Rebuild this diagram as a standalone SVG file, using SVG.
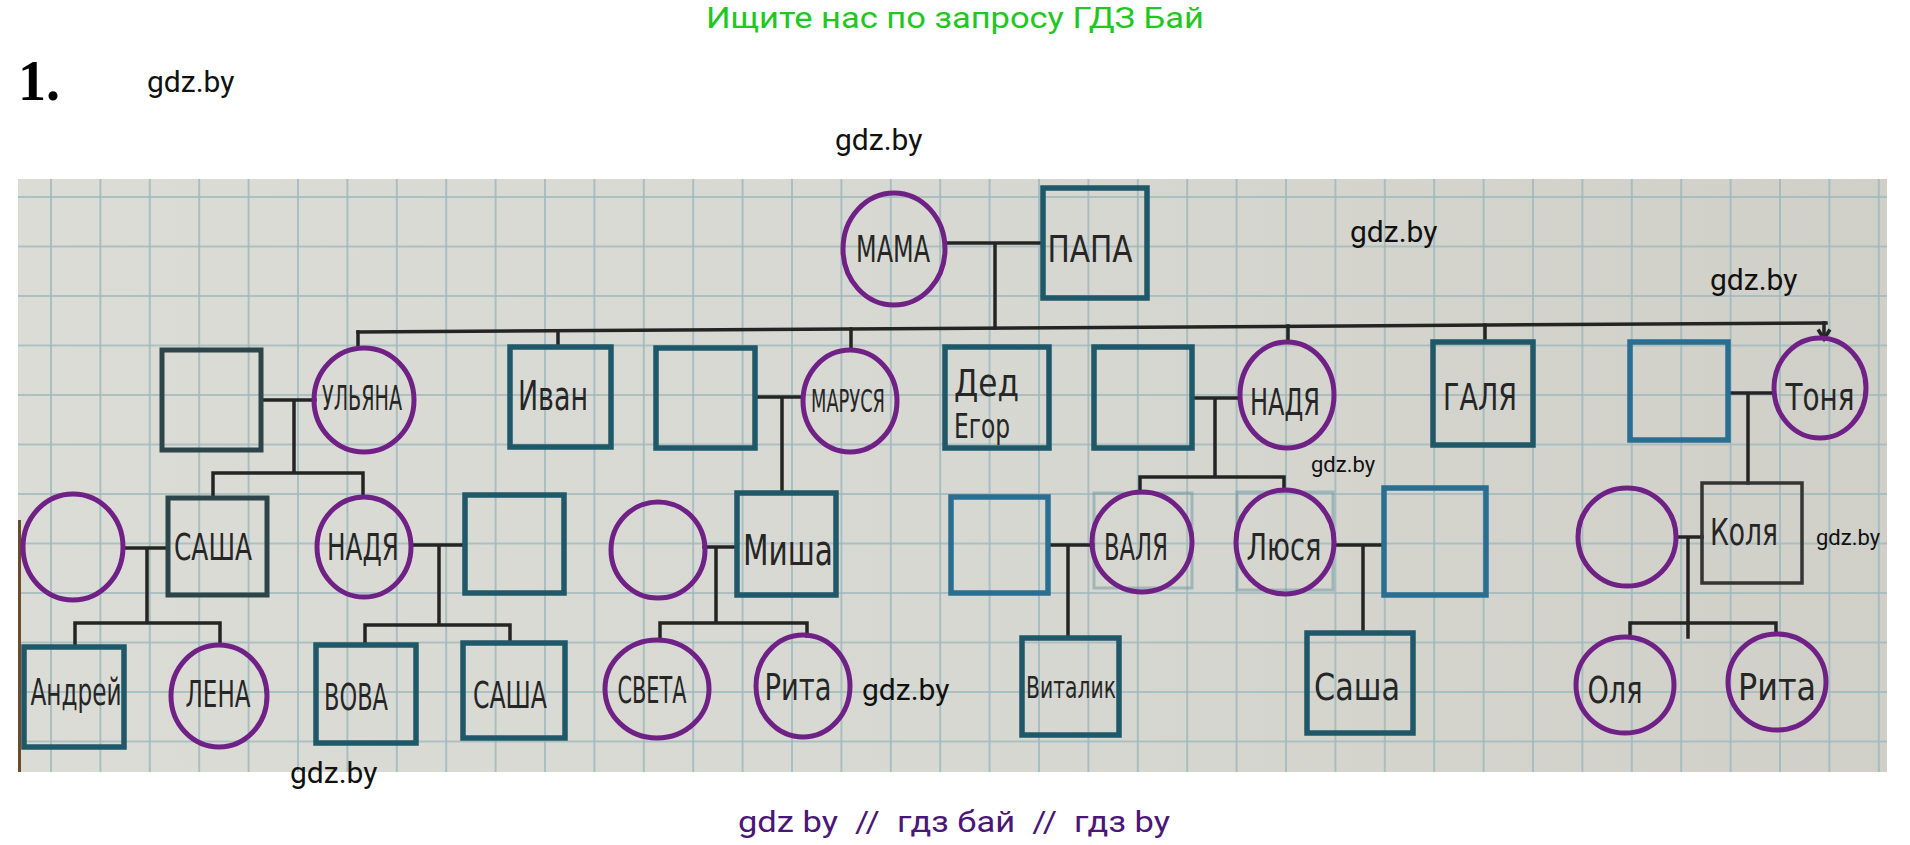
<svg xmlns="http://www.w3.org/2000/svg" width="1910" height="845" viewBox="0 0 1910 845">
<style>
.f{fill:none;stroke:#6f2186;stroke-width:5}
.m{fill:none;stroke:#1f5868;stroke-width:5.5}
.m2{fill:none;stroke:#2d4449;stroke-width:5}
.m3{fill:none;stroke:#2a6e92;stroke-width:5.5}
.m4{fill:none;stroke:#353535;stroke-width:3.5}
.ghost{fill:none;stroke:#5f8f9a;stroke-width:3;opacity:0.45}
.c{fill:none;stroke:#242424;stroke-width:3.5;stroke-linecap:square}
.t{font-family:"Liberation Sans Narrow","DejaVu Sans Condensed","Liberation Sans",sans-serif;font-size:38px;fill:#262626;text-anchor:middle}
.tl{text-anchor:start}
.w{font-family:Roboto,"Liberation Sans",sans-serif;font-size:30px;fill:#111}
.ws{font-family:Roboto,"Liberation Sans",sans-serif;font-size:22px;fill:#111}
</style>
<defs>
<linearGradient id="paper" x1="0" y1="0" x2="1" y2="0">
<stop offset="0" stop-color="#dcdcd6"/>
<stop offset="0.5" stop-color="#d8d8d2"/>
<stop offset="1" stop-color="#d0d0c9"/>
</linearGradient>
<pattern id="grid" patternUnits="userSpaceOnUse" x="50" y="196" width="49.4" height="49.5">
<path d="M1 0V49.5M0 1H49.4" stroke="#9db8bc" stroke-width="1.6" fill="none"/>
</pattern>
</defs>
<rect width="1910" height="845" fill="#ffffff"/>
<text x="955" y="28" text-anchor="middle" style="font-family:Roboto,'Liberation Sans',sans-serif;font-size:30px;fill:#1ec81e" textLength="498" lengthAdjust="spacingAndGlyphs">Ищите нас по запросу ГДЗ Бай</text>
<text x="18" y="100" style="font-family:'Liberation Serif',serif;font-size:56px;font-weight:bold;fill:#000">1.</text>
<g id="photo">
<rect x="18" y="179" width="1869" height="593" fill="url(#paper)"/>
<rect x="18" y="179" width="1869" height="593" fill="url(#grid)"/>
<rect x="18" y="520" width="3" height="252" fill="#6b4a2e"/>
</g>
<g id="connectors">
<path class="c" d="M945 243H1043M995 243V328"/>
<path class="c" d="M358 332L1826 323"/>
<path class="c" d="M358 332V348M558 331V347M851 329V350M1288 326V342M1485 325V342M1824 323V338"/>
<path class="c" d="M1819 331L1824 339L1829 331"/>
<path class="c" d="M261 400H315M294 400V473M213 473H363M213 473V498M363 473V497"/>
<path class="c" d="M755 397H803M782 397V493"/>
<path class="c" d="M1192 398H1240M1215 398V477M1140 477H1284M1140 477V492M1284 477V490"/>
<path class="c" d="M1728 393H1774M1748 393V483"/>
<path class="c" d="M123 548H168M147 548V623M75 623H220M75 623V647M220 623V645"/>
<path class="c" d="M411 545H465M439 545V625M365 625H510M365 625V645M510 625V643"/>
<path class="c" d="M704 547H737M716 547V623M660 623H807M660 623V640M807 623V636"/>
<path class="c" d="M1048 545H1093M1068 545V638"/>
<path class="c" d="M1334 545H1384M1363 545V633"/>
<path class="c" d="M1676 537H1702M1688 537V637M1630 623H1776M1630 623V637M1776 623V633"/>
</g>
<g id="n-mama"><ellipse class="f" cx="894" cy="249" rx="51" ry="56"/><text class="t" x="893" y="262" textLength="74" lengthAdjust="spacingAndGlyphs">МАМА</text></g>
<g id="n-papa"><rect class="m" x="1043" y="188" width="104" height="110"/><text class="t" x="1090" y="262" textLength="85" lengthAdjust="spacingAndGlyphs">ПАПА</text></g>
<g id="n-ulyana-husband"><rect class="m2" x="162" y="350" width="99" height="100"/></g>
<g id="n-ulyana"><ellipse class="f" cx="364" cy="400" rx="50" ry="52"/><text class="t" x="362" y="410" style="font-size:34px" textLength="80" lengthAdjust="spacingAndGlyphs">УЛЬЯНА</text></g>
<g id="n-ivan"><rect class="m" x="510" y="347" width="101" height="100"/><text class="t" x="553" y="410" style="font-size:40px" textLength="70" lengthAdjust="spacingAndGlyphs">Иван</text></g>
<g id="n-marusya-husband"><rect class="m" x="656" y="348" width="99" height="100"/></g>
<g id="n-marusya"><ellipse class="f" cx="850" cy="401" rx="47" ry="51"/><text class="t" x="848" y="412" style="font-size:32px" textLength="74" lengthAdjust="spacingAndGlyphs">МАРУСЯ</text></g>
<g id="n-ded-egor"><rect class="m" x="945" y="347" width="104" height="101"/><text class="t tl" x="954" y="396" textLength="65" lengthAdjust="spacingAndGlyphs">Дед</text><text class="t tl" x="954" y="438" style="font-size:34px" textLength="56" lengthAdjust="spacingAndGlyphs">Егор</text></g>
<g id="n-nadya1-husband"><rect class="m" x="1094" y="347" width="98" height="101"/></g>
<g id="n-nadya1"><ellipse class="f" cx="1287" cy="395" rx="47" ry="53"/><text class="t" x="1285" y="415" textLength="70" lengthAdjust="spacingAndGlyphs">НАДЯ</text></g>
<g id="n-galya"><rect class="m" x="1433" y="342" width="100" height="103"/><text class="t" x="1480" y="410" textLength="74" lengthAdjust="spacingAndGlyphs">ГАЛЯ</text></g>
<g id="n-tonya-husband"><rect class="m3" x="1630" y="342" width="98" height="98"/></g>
<g id="n-tonya"><ellipse class="f" cx="1820" cy="388" rx="46" ry="50"/><text class="t" x="1820" y="410" textLength="69" lengthAdjust="spacingAndGlyphs">Тоня</text></g>
<g id="n-sasha1-wife"><ellipse class="f" cx="73" cy="547" rx="50" ry="53"/></g>
<g id="n-sasha1"><rect class="m2" x="168" y="498" width="99" height="97"/><text class="t" x="213" y="560" textLength="78" lengthAdjust="spacingAndGlyphs">САША</text></g>
<g id="n-nadya2"><ellipse class="f" cx="364" cy="547" rx="47" ry="50"/><text class="t" x="363" y="560" textLength="72" lengthAdjust="spacingAndGlyphs">НАДЯ</text></g>
<g id="n-nadya2-husband"><rect class="m" x="465" y="495" width="99" height="98"/></g>
<g id="n-misha-wife"><ellipse class="f" cx="658" cy="550" rx="47" ry="48"/></g>
<g id="n-misha"><rect class="m" x="737" y="493" width="99" height="102"/><text class="t" x="788" y="565" style="font-size:42px" textLength="90" lengthAdjust="spacingAndGlyphs">Миша</text></g>
<g id="n-valya-husband"><rect class="m3" x="951" y="497" width="97" height="96"/></g>
<g id="n-valya"><rect class="ghost" x="1094" y="493" width="98" height="95"/><ellipse class="f" cx="1142" cy="542" rx="50" ry="50"/><text class="t" x="1136" y="560" textLength="64" lengthAdjust="spacingAndGlyphs">ВАЛЯ</text></g>
<g id="n-lyusya"><rect class="ghost" x="1237" y="492" width="96" height="98"/><ellipse class="f" cx="1285" cy="542" rx="49" ry="52"/><text class="t" x="1284" y="560" textLength="75" lengthAdjust="spacingAndGlyphs">Люся</text></g>
<g id="n-lyusya-husband"><rect class="m3" x="1384" y="488" width="102" height="107"/></g>
<g id="n-kolya-wife"><ellipse class="f" cx="1627" cy="537" rx="49" ry="49"/></g>
<g id="n-kolya"><rect class="m4" x="1702" y="483" width="100" height="100"/><text class="t" x="1744" y="545" textLength="68" lengthAdjust="spacingAndGlyphs">Коля</text></g>
<g id="n-andrey"><rect class="m" x="24" y="647" width="100" height="100"/><text class="t" x="76" y="705" textLength="91" lengthAdjust="spacingAndGlyphs">Андрей</text></g>
<g id="n-lena"><ellipse class="f" cx="219" cy="696" rx="48" ry="51"/><text class="t" x="218" y="707" textLength="65" lengthAdjust="spacingAndGlyphs">ЛЕНА</text></g>
<g id="n-vova"><rect class="m" x="316" y="645" width="100" height="98"/><text class="t" x="356" y="710" textLength="64" lengthAdjust="spacingAndGlyphs">ВОВА</text></g>
<g id="n-sasha2"><rect class="m" x="463" y="643" width="102" height="95"/><text class="t" x="510" y="708" textLength="74" lengthAdjust="spacingAndGlyphs">САША</text></g>
<g id="n-sveta"><ellipse class="f" cx="657" cy="689" rx="52" ry="49"/><text class="t" x="652" y="703" textLength="69" lengthAdjust="spacingAndGlyphs">СВЕТА</text></g>
<g id="n-rita1"><ellipse class="f" cx="803" cy="686" rx="47" ry="51"/><text class="t" x="798" y="700" textLength="67" lengthAdjust="spacingAndGlyphs">Рита</text></g>
<g id="n-vitalik"><rect class="m" x="1022" y="638" width="97" height="97"/><text class="t" x="1071" y="698" style="font-size:30px" textLength="90" lengthAdjust="spacingAndGlyphs">Виталик</text></g>
<g id="n-sasha3"><rect class="m" x="1307" y="633" width="106" height="100"/><text class="t" x="1357" y="700" textLength="86" lengthAdjust="spacingAndGlyphs">Саша</text></g>
<g id="n-olya"><ellipse class="f" cx="1625" cy="685" rx="49" ry="48"/><text class="t" x="1615" y="703" textLength="55" lengthAdjust="spacingAndGlyphs">Оля</text></g>
<g id="n-rita2"><ellipse class="f" cx="1777" cy="682" rx="49" ry="48"/><text class="t" x="1777" y="700" textLength="78" lengthAdjust="spacingAndGlyphs">Рита</text></g>
<g id="watermarks">
<text class="w" x="147" y="92">gdz.by</text>
<text class="w" x="835" y="150">gdz.by</text>
<text class="w" x="1350" y="242">gdz.by</text>
<text class="w" x="1710" y="290">gdz.by</text>
<text class="ws" x="1311" y="472">gdz.by</text>
<text class="ws" x="1816" y="545">gdz.by</text>
<text class="w" x="862" y="700">gdz.by</text>
<text class="w" x="290" y="783">gdz.by</text>
</g>
<text x="954" y="832" text-anchor="middle" xml:space="preserve" style="font-family:Roboto,'Liberation Sans',sans-serif;font-size:30px;fill:#4a1678;white-space:pre" textLength="432" lengthAdjust="spacingAndGlyphs">gdz by  //  гдз бай  //  гдз by</text>
</svg>
